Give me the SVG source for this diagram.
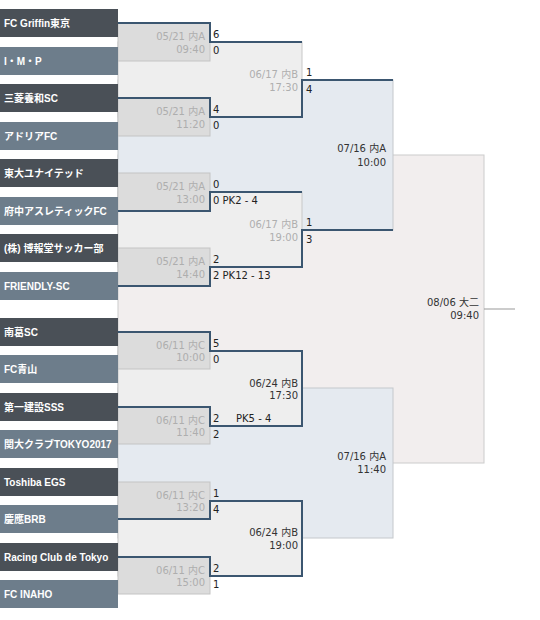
<svg xmlns="http://www.w3.org/2000/svg" width="540" height="620" viewBox="0 0 540 620">
<style>
.dk{fill:#4a5057}
.lt{fill:#6d7d8b}
.tn{font-family:"Liberation Sans","Noto Sans CJK JP",sans-serif;font-weight:bold;font-size:10px;fill:#ffffff}
.r1{fill:#dcdcdc;stroke:#c4c4c4;stroke-width:1}
.r2{fill:#eeeeee;stroke:#c8c8c8;stroke-width:1}
.r3{fill:#e5eaf0;stroke:#c4c8cc;stroke-width:1}
.fin{fill:#f2eeee;stroke:#cccccc;stroke-width:1}
.d{font-family:"DejaVu Sans","Noto Sans CJK JP",sans-serif;font-size:10px;text-anchor:end}
.pl{fill:#aeaeae}
.fu{fill:#333333}
.s{font-family:"DejaVu Sans","Noto Sans CJK JP",sans-serif;font-size:10px;fill:#222222}
.win{fill:none;stroke:#3b5670;stroke-width:2}
</style>
<rect width="540" height="620" fill="#ffffff"/>

<g id="final">
<rect class="fin" x="118" y="155" width="366" height="308"/>
<text class="d fu" x="479" y="306">08/06 大二</text>
<text class="d fu" x="479" y="319">09:40</text>
<line x1="484" y1="309" x2="515" y2="309" stroke="#999999" stroke-width="1"/>
</g>

<g id="sf1">
<rect class="r3" x="118" y="80" width="275" height="150"/>
<text class="d fu" x="386" y="152">07/16 内A</text>
<text class="d fu" x="386" y="166">10:00</text>
</g>
<g id="sf2">
<rect class="r3" x="118" y="388" width="275" height="150"/>
<text class="d fu" x="386" y="460">07/16 内A</text>
<text class="d fu" x="386" y="473">11:40</text>
</g>

<g id="qf1">
<rect class="r2" x="118" y="42" width="184" height="75"/>
<text class="d pl" x="298" y="78">06/17 内B</text>
<text class="d pl" x="298" y="91">17:30</text>
<text class="s" x="306" y="76">1</text>
<text class="s" x="306" y="93">4</text>
</g>
<g id="qf2">
<rect class="r2" x="118" y="192" width="184" height="75"/>
<text class="d pl" x="298" y="228">06/17 内B</text>
<text class="d pl" x="298" y="241">19:00</text>
<text class="s" x="306" y="226">1</text>
<text class="s" x="306" y="243">3</text>
</g>
<g id="qf3">
<rect class="r2" x="118" y="351" width="184" height="75"/>
<text class="d fu" x="298" y="386.5">06/24 内B</text>
<text class="d fu" x="298" y="399">17:30</text>
</g>
<g id="qf4">
<rect class="r2" x="118" y="501" width="184" height="75"/>
<text class="d fu" x="298" y="536">06/24 内B</text>
<text class="d fu" x="298" y="549">19:00</text>
</g>

<g id="m1">
<rect class="r1" x="118" y="23" width="92" height="38"/>
<text class="d pl" x="205" y="40">05/21 内A</text>
<text class="d pl" x="205" y="53">09:40</text>
<text class="s" x="213" y="38">6</text>
<text class="s" x="213" y="54">0</text>
</g>
<g id="m2">
<rect class="r1" x="118" y="98" width="92" height="38"/>
<text class="d pl" x="205" y="115">05/21 内A</text>
<text class="d pl" x="205" y="128">11:20</text>
<text class="s" x="213" y="113">4</text>
<text class="s" x="213" y="129">0</text>
</g>
<g id="m3">
<rect class="r1" x="118" y="173" width="92" height="38"/>
<text class="d pl" x="205" y="190">05/21 内A</text>
<text class="d pl" x="205" y="203">13:00</text>
<text class="s" x="213" y="188">0</text>
<text class="s" x="213" y="204">0 PK2 - 4</text>
</g>
<g id="m4">
<rect class="r1" x="118" y="248" width="92" height="38"/>
<text class="d pl" x="205" y="265">05/21 内A</text>
<text class="d pl" x="205" y="278">14:40</text>
<text class="s" x="213" y="263">2</text>
<text class="s" x="213" y="279">2 PK12 - 13</text>
</g>
<g id="m5">
<rect class="r1" x="118" y="332" width="92" height="37"/>
<text class="d pl" x="205" y="348.5">06/11 内C</text>
<text class="d pl" x="205" y="361">10:00</text>
<text class="s" x="213" y="347">5</text>
<text class="s" x="213" y="362.5">0</text>
</g>
<g id="m6">
<rect class="r1" x="118" y="407" width="92" height="37"/>
<text class="d pl" x="205" y="423.5">06/11 内C</text>
<text class="d pl" x="205" y="436">11:40</text>
<text class="s" x="213" y="421.5">2</text>
<text class="s" x="236" y="421.5">PK5 - 4</text>
<text class="s" x="213" y="437.5">2</text>
</g>
<g id="m7">
<rect class="r1" x="118" y="482" width="92" height="37"/>
<text class="d pl" x="205" y="498.5">06/11 内C</text>
<text class="d pl" x="205" y="511">13:20</text>
<text class="s" x="213" y="496.5">1</text>
<text class="s" x="213" y="512.5">4</text>
</g>
<g id="m8">
<rect class="r1" x="118" y="557" width="92" height="37"/>
<text class="d pl" x="205" y="573.5">06/11 内C</text>
<text class="d pl" x="205" y="586">15:00</text>
<text class="s" x="213" y="571.5">2</text>
<text class="s" x="213" y="587.5">1</text>
</g>

<g id="connectors">
<path class="win" d="M118,23 H210 V42 H302"/>
<path class="win" d="M118,98 H210 V117 H302 V80 H393"/>
<path class="win" d="M118,211 H210 V192 H302"/>
<path class="win" d="M118,286 H210 V267 H302 V230 H393"/>
<path class="win" d="M118,332 H210 V351 H302 V388"/>
<path class="win" d="M118,407 H210 V426 H302 V388"/>
<path class="win" d="M118,519 H210 V501 H302 V538"/>
<path class="win" d="M118,557 H210 V576 H302 V538"/>
</g>

<g id="t1"><rect class="dk" x="0" y="9" width="118" height="28"/><text class="tn" x="4" y="27">FC Griffin東京</text></g>
<g id="t2"><rect class="lt" x="0" y="47" width="118" height="28"/><text class="tn" x="4" y="65">I・M・P</text></g>
<g id="t3"><rect class="dk" x="0" y="84" width="118" height="28"/><text class="tn" x="4" y="102">三菱養和SC</text></g>
<g id="t4"><rect class="lt" x="0" y="122" width="118" height="28"/><text class="tn" x="4" y="140">アドリアFC</text></g>
<g id="t5"><rect class="dk" x="0" y="159" width="118" height="28"/><text class="tn" x="4" y="177">東大ユナイテッド</text></g>
<g id="t6"><rect class="lt" x="0" y="197" width="118" height="28"/><text class="tn" x="4" y="215">府中アスレティックFC</text></g>
<g id="t7"><rect class="dk" x="0" y="234" width="118" height="28"/><text class="tn" x="4" y="252">(株) 博報堂サッカー部</text></g>
<g id="t8"><rect class="lt" x="0" y="272" width="118" height="28"/><text class="tn" x="4" y="290">FRIENDLY-SC</text></g>
<g id="t9"><rect class="dk" x="0" y="318" width="118" height="28"/><text class="tn" x="4" y="336">南葛SC</text></g>
<g id="t10"><rect class="lt" x="0" y="355" width="118" height="28"/><text class="tn" x="4" y="373">FC青山</text></g>
<g id="t11"><rect class="dk" x="0" y="393" width="118" height="28"/><text class="tn" x="4" y="411">第一建設SSS</text></g>
<g id="t12"><rect class="lt" x="0" y="430" width="118" height="28"/><text class="tn" x="4" y="448">関大クラブTOKYO2017</text></g>
<g id="t13"><rect class="dk" x="0" y="468" width="118" height="28"/><text class="tn" x="4" y="486">Toshiba EGS</text></g>
<g id="t14"><rect class="lt" x="0" y="505" width="118" height="28"/><text class="tn" x="4" y="523">慶應BRB</text></g>
<g id="t15"><rect class="dk" x="0" y="543" width="118" height="28"/><text class="tn" x="4" y="561">Racing Club de Tokyo</text></g>
<g id="t16"><rect class="lt" x="0" y="580" width="118" height="28"/><text class="tn" x="4" y="598">FC INAHO</text></g>
</svg>
